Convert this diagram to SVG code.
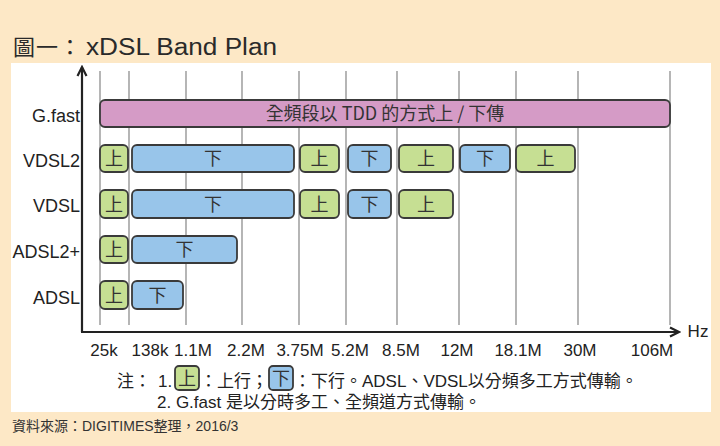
<svg xmlns="http://www.w3.org/2000/svg" width="720" height="446" viewBox="0 0 720 446">
<defs>
<style>
.bg{fill:#fde8c6}
.panel{fill:#ffffff}
.grid{stroke:#8e8e8e;stroke-width:1.3}
.axis{stroke:#222;stroke-width:2.2;fill:none}
.up{fill:#c6df93;stroke:#3a3a3a;stroke-width:1.8}
.down{fill:#98c5ea;stroke:#3a3a3a;stroke-width:1.8}
.gf{fill:#d59bc6;stroke:#3a3a3a;stroke-width:1.8}
.bt{font-family:"Noto Sans CJK TC","Noto Sans CJK SC",sans-serif;font-size:18px;fill:#333;text-anchor:middle}
.lbl{font-family:"Liberation Sans",Arial,sans-serif;font-size:18px;fill:#222;text-anchor:end}
.tick{font-family:"Liberation Sans",Arial,sans-serif;font-size:17px;fill:#222;text-anchor:middle}
.note{font-family:"Liberation Sans","Noto Sans CJK TC",sans-serif;font-size:17px;fill:#222}
.foot{font-family:"Liberation Sans","Noto Sans CJK TC",sans-serif;font-size:14px;fill:#333}
.title{font-family:"Liberation Sans","Noto Sans CJK TC",sans-serif;font-size:23px;fill:#2a2a2a}
</style>
<marker id="arr" viewBox="0 0 12 12" refX="10" refY="6" markerWidth="12" markerHeight="12" markerUnits="userSpaceOnUse" orient="auto">
<path d="M1,1.5 L10,6 L1,10.5" fill="none" stroke="#222" stroke-width="2.2" stroke-linejoin="miter"/>
</marker>
</defs>
<rect class="bg" x="0" y="0" width="720" height="446"/>
<rect class="panel" x="11" y="63" width="700" height="349"/>
<text class="title" x="13" y="55"><tspan font-size="22" letter-spacing="1">圖一：</tspan><tspan x="86" textLength="191" lengthAdjust="spacingAndGlyphs">xDSL Band Plan</tspan></text>

<g id="connectors">
<g id="grid">
<line class="grid" x1="100" y1="71" x2="100" y2="325"/>
<line class="grid" x1="129" y1="71" x2="129" y2="325"/>
<line class="grid" x1="186" y1="71" x2="186" y2="325"/>
<line class="grid" x1="242" y1="71" x2="242" y2="325"/>
<line class="grid" x1="299" y1="71" x2="299" y2="325"/>
<line class="grid" x1="346" y1="71" x2="346" y2="325"/>
<line class="grid" x1="397" y1="71" x2="397" y2="325"/>
<line class="grid" x1="459" y1="71" x2="459" y2="325"/>
<line class="grid" x1="516" y1="71" x2="516" y2="325"/>
<line class="grid" x1="578" y1="71" x2="578" y2="325"/>
<line class="grid" x1="670" y1="71" x2="670" y2="325"/>
</g>
<path id="y-axis" class="axis" d="M82,332 L82,67" marker-end="url(#arr)"/>
<path id="x-axis" class="axis" d="M81,332 L679,332" marker-end="url(#arr)"/>
</g>

<g id="row-labels">
<text class="lbl" x="80" y="122">G.fast</text>
<text class="lbl" x="80" y="167">VDSL2</text>
<text class="lbl" x="80" y="212">VDSL</text>
<text class="lbl" x="80" y="258">ADSL2+</text>
<text class="lbl" x="80" y="304">ADSL</text>
</g>

<g id="gfast-band">
<rect class="gf" x="100" y="100" width="570" height="27" rx="5"/>
<text class="bt" x="385" y="120">全頻段以 TDD 的方式上 / 下傳</text>
</g>

<g id="vdsl2">
<g id="vdsl2-u1"><rect class="up" x="100" y="145" width="28" height="27" rx="5"/><text class="bt" x="114" y="165">上</text></g>
<g id="vdsl2-d1"><rect class="down" x="132" y="145" width="162" height="27" rx="5"/><text class="bt" x="213" y="165">下</text></g>
<g id="vdsl2-u2"><rect class="up" x="300" y="145" width="39" height="27" rx="5"/><text class="bt" x="319.5" y="165">上</text></g>
<g id="vdsl2-d2"><rect class="down" x="348" y="145" width="43" height="27" rx="5"/><text class="bt" x="369.5" y="165">下</text></g>
<g id="vdsl2-u3"><rect class="up" x="399" y="145" width="54" height="27" rx="5"/><text class="bt" x="426" y="165">上</text></g>
<g id="vdsl2-d3"><rect class="down" x="460" y="145" width="50" height="27" rx="5"/><text class="bt" x="485" y="165">下</text></g>
<g id="vdsl2-u4"><rect class="up" x="516" y="145" width="59" height="27" rx="5"/><text class="bt" x="545.5" y="165">上</text></g>
</g>

<g id="vdsl">
<g id="vdsl-u1"><rect class="up" x="100" y="190" width="28" height="28" rx="5"/><text class="bt" x="114" y="210.5">上</text></g>
<g id="vdsl-d1"><rect class="down" x="132" y="190" width="162" height="28" rx="5"/><text class="bt" x="213" y="210.5">下</text></g>
<g id="vdsl-u2"><rect class="up" x="300" y="190" width="39" height="28" rx="5"/><text class="bt" x="319.5" y="210.5">上</text></g>
<g id="vdsl-d2"><rect class="down" x="348" y="190" width="43" height="28" rx="5"/><text class="bt" x="369.5" y="210.5">下</text></g>
<g id="vdsl-u3"><rect class="up" x="399" y="190" width="54" height="28" rx="5"/><text class="bt" x="426" y="210.5">上</text></g>
</g>

<g id="adsl2plus">
<g id="adsl2plus-u1"><rect class="up" x="100" y="236" width="28" height="27" rx="5"/><text class="bt" x="114" y="256">上</text></g>
<g id="adsl2plus-d1"><rect class="down" x="132" y="236" width="105" height="27" rx="5"/><text class="bt" x="184.5" y="256">下</text></g>
</g>

<g id="adsl">
<g id="adsl-u1"><rect class="up" x="100" y="281" width="28" height="28" rx="5"/><text class="bt" x="114" y="301.5">上</text></g>
<g id="adsl-d1"><rect class="down" x="132" y="281" width="51" height="28" rx="5"/><text class="bt" x="157.5" y="301.5">下</text></g>
</g>

<g id="tick-labels">
<text class="tick" x="104" y="356">25k</text>
<text class="tick" x="150" y="356">138k</text>
<text class="tick" x="193" y="356">1.1M</text>
<text class="tick" x="246" y="356">2.2M</text>
<text class="tick" x="300" y="356">3.75M</text>
<text class="tick" x="350" y="356">5.2M</text>
<text class="tick" x="401" y="356">8.5M</text>
<text class="tick" x="457" y="356">12M</text>
<text class="tick" x="518" y="356">18.1M</text>
<text class="tick" x="580" y="356">30M</text>
<text class="tick" x="652" y="356">106M</text>
<text class="tick" x="698" y="337">Hz</text>
</g>

<g id="notes">
<text class="note" x="117" y="387">注：</text>
<text class="note" x="158" y="387">1.</text>
<g id="legend-up"><rect class="up" x="175" y="366" width="24" height="24" rx="4"/><text class="bt" x="187" y="384.5" font-size="17">上</text></g>
<text class="note" x="200" y="387">：上行；</text>
<g id="legend-down"><rect class="down" x="269" y="366" width="24" height="24" rx="4"/><text class="bt" x="281" y="384.5" font-size="17">下</text></g>
<text class="note" x="294" y="387">：下行。ADSL、VDSL以分頻多工方式傳輸。</text>
<text class="note" x="157" y="408">2. G.fast 是以分時多工、全頻道方式傳輸。</text>
</g>

<text class="foot" x="12" y="431">資料來源：DIGITIMES整理，2016/3</text>
</svg>
